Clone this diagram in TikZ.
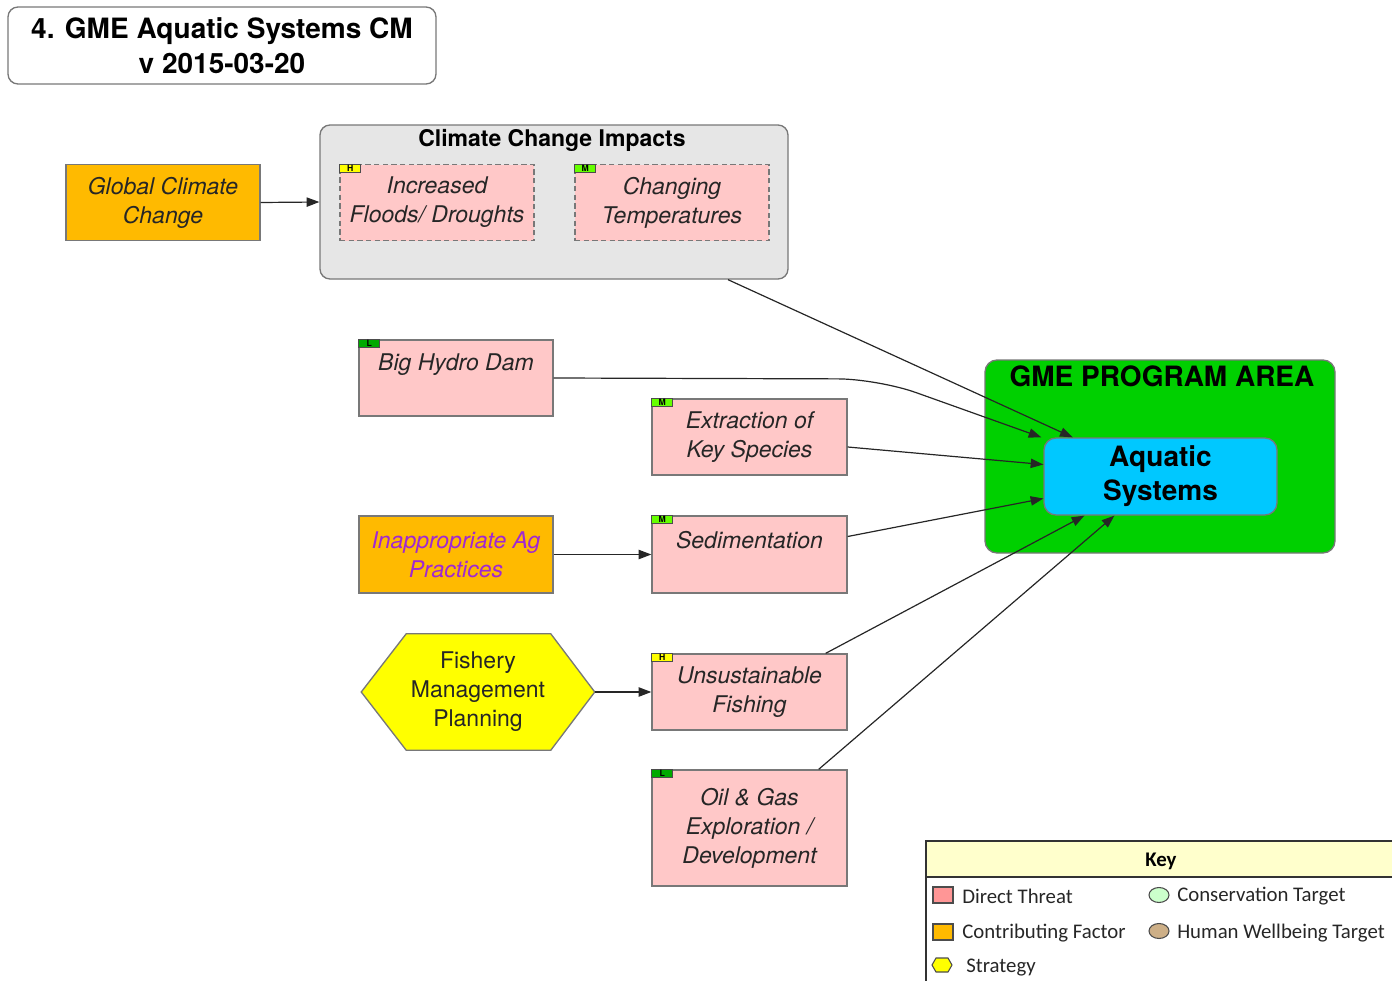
\documentclass[tikz,border=0pt]{standalone}
\usepackage{fontspec}
\setmainfont{TeX Gyre Heros}
\newfontfamily\keyfont{Carlito}
\usetikzlibrary{arrows.meta,calc,backgrounds}

\definecolor{threatpink}{RGB}{255,200,200}
\definecolor{factororange}{RGB}{255,186,0}
\definecolor{groupgray}{RGB}{230,230,230}
\definecolor{areagreen}{RGB}{0,208,0}
\definecolor{targetcyan}{RGB}{0,200,255}
\definecolor{edgegray}{RGB}{120,120,120}
\definecolor{agpurple}{RGB}{160,40,210}
\definecolor{ratehigh}{RGB}{255,255,0}
\definecolor{ratemed}{RGB}{102,255,0}
\definecolor{ratelow}{RGB}{0,170,0}
\definecolor{keyhead}{RGB}{255,255,204}
\definecolor{keythreat}{RGB}{255,150,150}
\definecolor{keycons}{RGB}{204,255,204}
\definecolor{keyhuman}{RGB}{205,175,135}

\tikzset{
  wpx/.style={minimum width=#1*0.75pt},
  hpx/.style={minimum height=#1*0.75pt},
  boxtext/.style={font=\fontsize{17.25pt}{21.75pt}\selectfont\itshape, align=center, text=black!85},
  threat/.style={rectangle, draw=edgegray, line width=1pt, fill=threatpink, inner sep=0pt, boxtext, wpx=194, hpx=76},
  scenario/.style={threat, dashed, dash pattern=on 4pt off 2.5pt},
  factor/.style={threat, fill=factororange},
  badge/.style={rectangle, draw=black!70, line width=0.5pt, anchor=north west, inner sep=0pt,
    wpx=21, hpx=8, font=\fontsize{6.5pt}{6.5pt}\selectfont\bfseries},
  link/.style={draw=black!85, line width=0.9pt, -{Triangle[length=9.5pt,width=7pt]}},
  keytext/.style={font=\keyfont\fontsize{15.6pt}{17pt}\selectfont, anchor=west, inner sep=0pt, text=black!85},
}

\begin{document}
\begin{tikzpicture}[x=0.75pt,y=-0.75pt]
\useasboundingbox (0,0) rectangle (1392,981);

% title block
\node[rectangle, rounded corners=7.5pt, draw=edgegray, line width=1pt, fill=white,
  wpx=428, hpx=77, inner sep=0pt, align=center,
  font=\fontsize{21pt}{26.25pt}\selectfont\bfseries] (title) at (222,45.5)
  {4. GME Aquatic Systems CM\\v 2015-03-20};

% contributing factor feeding the climate group
\node[factor] (gcc) at (163,202.5) {Global Climate\\Change};

% climate change impacts group
\node[rectangle, rounded corners=7.5pt, draw=edgegray, line width=1pt, fill=groupgray,
  wpx=468, hpx=154, inner sep=0pt] (grp) at (554,202) {};
\node[font=\fontsize{17.25pt}{20pt}\selectfont\bfseries, inner sep=0pt] (grptitle) at (552,140) {Climate Change Impacts};
\node[scenario] (flood) at (437,202.5) {Increased\\Floods/ Droughts};
\node[scenario] (temp) at (672,202.5) {Changing\\Temperatures};
\node[badge, fill=ratehigh] (bflood) at (flood.north west) {H};
\node[badge, fill=ratemed] (btemp) at (temp.north west) {M};

% direct threats
\node[threat, label={[boxtext, anchor=center, yshift=-18.75pt]north:Big Hydro Dam}] (dam) at (456,378) {};
\node[threat, wpx=195] (extr) at (749.5,437) {Extraction of\\Key Species};
\node[threat, wpx=195, hpx=77, label={[boxtext, anchor=center, yshift=-18.75pt]north:Sedimentation}] (sed) at (749.5,554.5) {};
\node[threat, wpx=195] (fishing) at (749.5,692) {Unsustainable\\Fishing};
\node[threat, wpx=195, hpx=116] (oil) at (749.5,828) {Oil \& Gas\\Exploration /\\Development};
\node[badge, fill=ratelow] (bdam) at (dam.north west) {L};
\node[badge, fill=ratemed] (bextr) at (extr.north west) {M};
\node[badge, fill=ratemed] (bsed) at (sed.north west) {M};
\node[badge, fill=ratehigh] (bfishing) at (fishing.north west) {H};
\node[badge, fill=ratelow] (boil) at (oil.north west) {L};

% contributing factor for sediment
\node[factor, hpx=77, text=agpurple] (ag) at (456,554.5) {Inappropriate Ag\\Practices};

% strategy (hexagon)
\node[rectangle, inner sep=0pt, wpx=233, hpx=116, align=center,
  font=\fontsize{17.25pt}{21.75pt}\selectfont, text=black!85] (fmp) at (478,692)
  {Fishery\\Management\\Planning};
\begin{scope}[on background layer]
\draw[draw=edgegray, line width=1pt, fill=ratehigh]
  (fmp.west) -- ($(fmp.north west)+(45,0)$) -- ($(fmp.north east)+(-44,0)$)
  -- (fmp.east) -- ($(fmp.south east)+(-44,0)$) -- ($(fmp.south west)+(45,0)$) -- cycle;
\end{scope}

% program area and target
\node[rectangle, rounded corners=9pt, draw=edgegray, line width=1pt, fill=areagreen,
  wpx=350, hpx=193, inner sep=0pt] (gme) at (1160,456.5) {};
\node[font=\fontsize{21pt}{24pt}\selectfont\bfseries, inner sep=0pt] (gmetitle) at (1162,376) {GME PROGRAM AREA};
\node[rectangle, rounded corners=9pt, draw=edgegray, line width=1pt, fill=targetcyan,
  wpx=233, hpx=77, inner sep=0pt, align=center,
  font=\fontsize{21pt}{25.5pt}\selectfont\bfseries] (aq) at (1160.5,476.5) {Aquatic\\Systems};

% connectors
\draw[link] (gcc.east) -- (grp.west);
\draw[link] ($(grp.south)+(174,0)$) -- ($(aq.north west)!0.125!(aq.north east)$);
\draw[link, rounded corners=30pt] (dam.east) -- (878,379) -- ($(aq.north west)+(-2,0)$);
\draw[link] ($(extr.east)+(0,10)$) -- ($(aq.west)+(0,-12)$);
\draw[link] ($(sed.east)+(0,-18)$) -- ($(aq.west)+(0,22)$);
\draw[link] (ag.east) -- (sed.west);
\draw[link] (fmp.east) -- (fishing.west);
\draw[link] ($(fishing.north east)+(-22,0)$) -- ($(aq.south west)+(41,0)$);
\draw[link] ($(oil.north east)+(-29,0)$) -- ($(aq.south west)+(71,0)$);

% legend
\draw[line width=1pt, draw=black!80, fill=keyhead] (926,841) rectangle (1400,877);
\draw[line width=1pt, draw=black!80] (926,877) -- (926,990);
\node[font=\keyfont\bfseries\fontsize{15.6pt}{17pt}\selectfont, inner sep=0pt] (keytitle) at (1161,861) {Key};
\draw[fill=keythreat, draw=black!70, line width=0.8pt] (933,887) rectangle (953,903);
\node[keytext] (kt1) at (962,896) {Direct Threat};
\draw[fill=factororange, draw=black!70, line width=0.8pt] (933,924) rectangle (953,940);
\node[keytext] (kt2) at (962,933) {Contributing Factor};
\draw[fill=ratehigh, draw=black!70, line width=0.8pt]
  (932,965) -- (936,958) -- (948,958) -- (952,965) -- (948,972) -- (936,972) -- cycle;
\node[keytext] (kt3) at (966,968) {Strategy};
\draw[fill=keycons, draw=black!70, line width=0.8pt] (1159,895) ellipse [x radius=10, y radius=7.5];
\node[keytext] (kt4) at (1177,896) {Conservation Target};
\draw[fill=keyhuman, draw=black!70, line width=0.8pt] (1159,931) ellipse [x radius=10, y radius=7.5];
\node[keytext] (kt5) at (1177,933) {Human Wellbeing Target};
\end{tikzpicture}
\end{document}
